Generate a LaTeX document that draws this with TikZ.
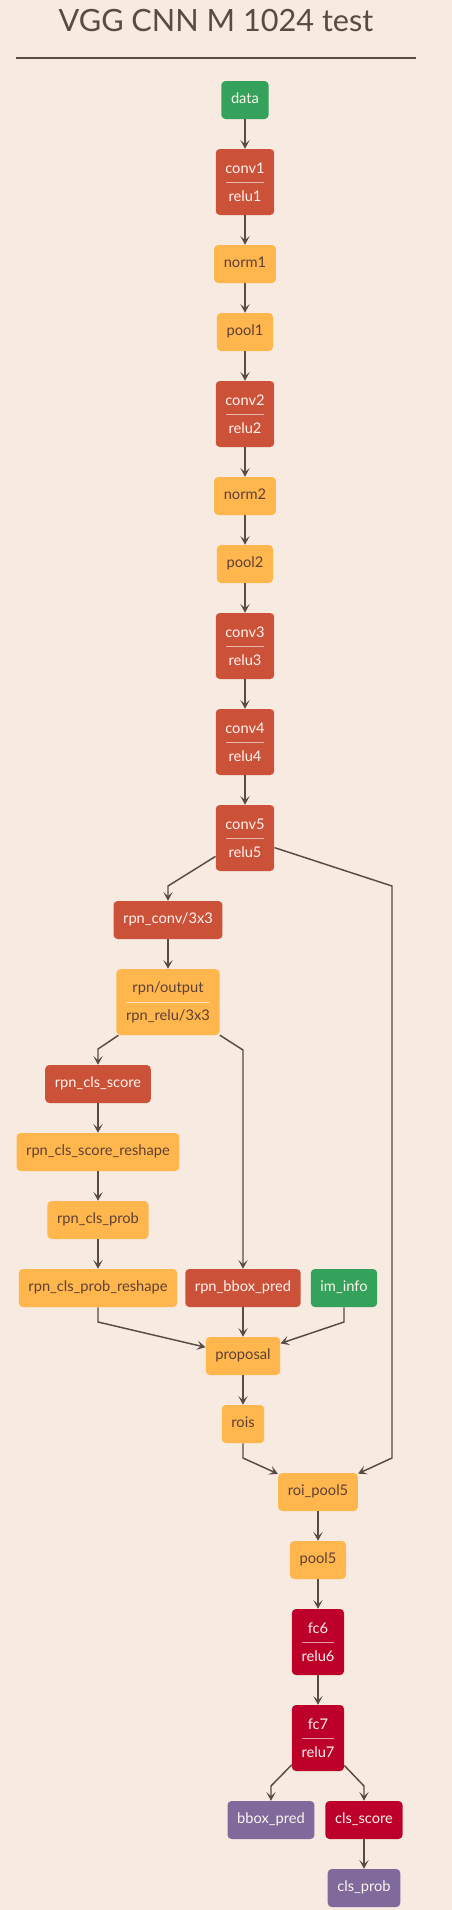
\documentclass[tikz,border=0pt]{standalone}
\usepackage{fontspec}
\setmainfont{Lato}
\usetikzlibrary{arrows.meta,calc}

\definecolor{bgcol}{HTML}{F6EAE1}
\definecolor{inkcol}{HTML}{5B4A42}
\definecolor{datacol}{HTML}{35A25B}
\definecolor{convcol}{HTML}{CB5238}
\definecolor{poolcol}{HTML}{FFB74D}
\definecolor{fccol}{HTML}{BD0029}
\definecolor{outcol}{HTML}{806A9C}
\definecolor{lighttext}{HTML}{FDF3EE}
\definecolor{darktext}{HTML}{5D4037}

\begin{document}
\begin{tikzpicture}[x=0.75pt,y=-0.75pt,
  base/.style={rounded corners=3pt,inner xsep=7.2pt,inner ysep=0pt,
    font=\fontsize{11pt}{21pt}\selectfont},
  one/.style={base,minimum height=28.5pt,text height=7.8pt,text depth=2pt},
  two/.style={base,minimum height=49.5pt,align=center,
    path picture={\draw[line width=0.6pt,#1]
      ($(path picture bounding box.west)+(10,0)$) --
      ($(path picture bounding box.east)+(-10,0)$);}},
  datanode/.style={fill=datacol,text=lighttext},
  convnode/.style={fill=convcol,text=lighttext},
  poolnode/.style={fill=poolcol,text=darktext},
  fcnode/.style={fill=fccol,text=lighttext},
  outnode/.style={fill=outcol,text=lighttext},
  edge/.style={draw=inkcol,line width=1.1pt,
    -{Stealth[length=6.5pt,width=7pt,inset=3pt]}}]

\fill[bgcol] (0,0) rectangle (452,1910);

% title
\node[anchor=base,text=inkcol,font=\fontsize{23pt}{28pt}\selectfont] (title) at (216,31) {VGG CNN M 1024 test};
\draw[inkcol,line width=0.8pt] (16,58) -- (416,58);

% main column
\node[one,datanode] (data) at (245,100) {data};
\node[two=convcol!40!white,convnode] (conv1) at (245,182) {conv1\\relu1};
\node[one,poolnode] (norm1) at (245,264) {norm1};
\node[one,poolnode] (pool1) at (245,332) {pool1};
\node[two=convcol!40!white,convnode] (conv2) at (245,414) {conv2\\relu2};
\node[one,poolnode] (norm2) at (245,496) {norm2};
\node[one,poolnode] (pool2) at (245,564) {pool2};
\node[two=convcol!40!white,convnode] (conv3) at (245,646) {conv3\\relu3};
\node[two=convcol!40!white,convnode] (conv4) at (245,742) {conv4\\relu4};
\node[two=convcol!40!white,convnode] (conv5) at (245,838) {conv5\\relu5};

% rpn branch
\node[one,convnode] (rpnconv) at (168,920) {rpn\_conv/3x3};
\node[two=poolcol!40!white,poolnode] (rpnout) at (168,1002) {rpn/output\\rpn\_relu/3x3};
\node[one,convnode] (rpnscore) at (98,1084) {rpn\_cls\_score};
\node[one,poolnode] (rpnscorersh) at (98,1152) {rpn\_cls\_score\_reshape};
\node[one,poolnode] (rpnprob) at (98,1220) {rpn\_cls\_prob};
\node[one,poolnode] (rpnprobrsh) at (98,1288) {rpn\_cls\_prob\_reshape};
\node[one,convnode] (rpnbbox) at (243,1288) {rpn\_bbox\_pred};
\node[one,datanode] (iminfo) at (344,1288) {im\_info};
\node[one,poolnode] (proposal) at (243,1356) {proposal};
\node[one,poolnode] (rois) at (243,1424) {rois};

% head
\node[one,poolnode] (roipool) at (318,1492) {roi\_pool5};
\node[one,poolnode] (pool5) at (318,1560) {pool5};
\node[two=fccol!40!white,fcnode] (fc6) at (318,1642) {fc6\\relu6};
\node[two=fccol!40!white,fcnode] (fc7) at (318,1738) {fc7\\relu7};
\node[one,outnode] (bboxpred) at (271,1820) {bbox\_pred};
\node[one,fcnode] (clsscore) at (364,1820) {cls\_score};
\node[one,outnode] (clsprob) at (364,1888) {cls\_prob};

% bends
\coordinate (b1) at (168,886);
\coordinate (b2) at (392,886);
\coordinate (b3) at (392,1458);
\coordinate (b4) at (98,1049);
\coordinate (b5) at (243,1050);
\coordinate (b6) at (98,1322);
\coordinate (b7) at (344,1322);
\coordinate (b8) at (243,1458);
\coordinate (b9) at (271,1786);
\coordinate (b10) at (364,1786);

\draw[edge] (data) -- (conv1);
\draw[edge] (conv1) -- (norm1);
\draw[edge] (norm1) -- (pool1);
\draw[edge] (pool1) -- (conv2);
\draw[edge] (conv2) -- (norm2);
\draw[edge] (norm2) -- (pool2);
\draw[edge] (pool2) -- (conv3);
\draw[edge] (conv3) -- (conv4);
\draw[edge] (conv4) -- (conv5);

\draw[edge] (conv5) -- (b1) -- (rpnconv);
\draw[edge] (rpnconv) -- (rpnout);
\draw[edge] (rpnout) -- (b4) -- (rpnscore);
\draw[edge] (rpnscore) -- (rpnscorersh);
\draw[edge] (rpnscorersh) -- (rpnprob);
\draw[edge] (rpnprob) -- (rpnprobrsh);
\draw[edge] (rpnout) -- (b5) -- (rpnbbox);
\draw[edge] (rpnprobrsh) -- (b6) -- (proposal);
\draw[edge] (rpnbbox) -- (proposal);
\draw[edge] (iminfo) -- (b7) -- (proposal);
\draw[edge] (proposal) -- (rois);

\draw[edge] (conv5) -- (b2) -- (b3) -- (roipool);
\draw[edge] (rois) -- (b8) -- (roipool);
\draw[edge] (roipool) -- (pool5);
\draw[edge] (pool5) -- (fc6);
\draw[edge] (fc6) -- (fc7);
\draw[edge] (fc7) -- (b9) -- (bboxpred);
\draw[edge] (fc7) -- (b10) -- (clsscore);
\draw[edge] (clsscore) -- (clsprob);

\end{tikzpicture}
\end{document}
